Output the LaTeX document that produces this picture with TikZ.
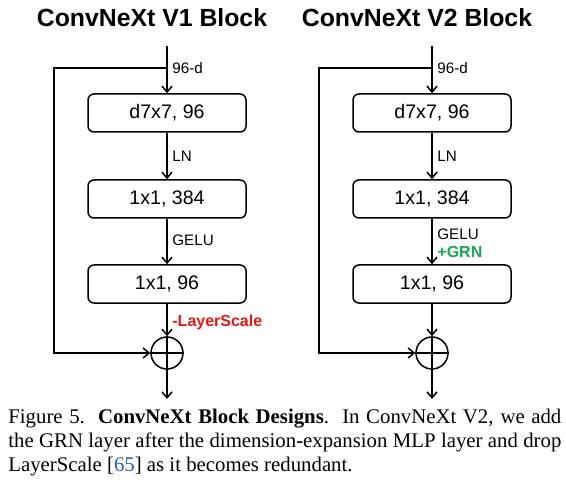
\documentclass[tikz,border=0pt]{standalone}
\usepackage{fontspec}
\setmainfont{Liberation Serif}
\setsansfont{Liberation Sans}
\usepackage{xcolor}
\usetikzlibrary{arrows.meta,positioning}
\definecolor{scaleRed}{RGB}{232,22,22}
\definecolor{grnGreen}{RGB}{24,166,82}
\definecolor{citeBlue}{RGB}{32,96,190}

\tikzset{
    blk/.style={draw, line width=0.75pt, rounded corners=3pt,
        minimum width=79pt, minimum height=19pt, inner sep=0pt,
        font=\sffamily\fontsize{9.8}{11}\selectfont},
    flow/.style={line width=0.75pt, -{Straight Barb[length=3pt,width=5pt]}},
    lbl/.style={anchor=west, inner sep=0pt, font=\sffamily\fontsize{7.6}{9}\selectfont},
    ttl/.style={inner sep=0pt, font=\sffamily\bfseries\fontsize{12.4}{14}\selectfont},
    sumnode/.style={draw, circle, line width=0.75pt, minimum size=16pt, inner sep=0pt},
}

\begin{document}
\begin{tikzpicture}[x=0.5pt,y=-0.5pt]
    \useasboundingbox (0,0) rectangle (566,491);

    % key values
    \pgfmathsetmacro{\xa}{167}
    \pgfmathsetmacro{\xb}{432}
    \pgfmathsetmacro{\ysplit}{68}
    \pgfmathsetmacro{\ysum}{353}

    % titles
    \node[ttl] (titleA) at (152,18) {ConvNeXt V1 Block};
    \node[ttl] (titleB) at (417,18) {ConvNeXt V2 Block};

    % V1 block
    \node[blk] (dwA) at (\xa,113) {d7x7, 96};
    \node[blk] (pwA) at (\xa,199) {1x1, 384};
    \node[blk] (pjA) at (\xa,284) {1x1, 96};
    \node[sumnode] (sumA) at (\xa,\ysum) {};
    \coordinate (inA) at (\xa,46);
    \coordinate (splitA) at (\xa,\ysplit);
    \coordinate (skipA) at (54,\ysplit);
    \coordinate (outA) at (\xa,399);

    \draw[flow] (inA) -- (dwA);
    \draw[flow] (dwA) -- (pwA);
    \draw[flow] (pwA) -- (pjA);
    \draw[flow] (pjA) -- (sumA);
    \draw[flow] (sumA) -- (outA);
    \draw[flow] (splitA) -- (skipA) |- (sumA);
    \draw[line width=0.75pt] (sumA.north) -- (sumA.south) (sumA.west) -- (sumA.east);

    \node[lbl] (dimA) at (\xa+5,\ysplit) {96-d};
    \node[lbl] (lnA) at (\xa+5,156) {LN};
    \node[lbl] (geluA) at (\xa+5,240) {GELU};
    \node[lbl, text=scaleRed, font=\sffamily\bfseries\fontsize{8}{9}\selectfont] (lsA) at (\xa+5,322) {-LayerScale};

    % V2 block
    \node[blk] (dwB) at (\xb,113) {d7x7, 96};
    \node[blk] (pwB) at (\xb,199) {1x1, 384};
    \node[blk] (pjB) at (\xb,284) {1x1, 96};
    \node[sumnode] (sumB) at (\xb,\ysum) {};
    \coordinate (inB) at (\xb,46);
    \coordinate (splitB) at (\xb,\ysplit);
    \coordinate (skipB) at (319,\ysplit);
    \coordinate (outB) at (\xb,399);

    \draw[flow] (inB) -- (dwB);
    \draw[flow] (dwB) -- (pwB);
    \draw[flow] (pwB) -- (pjB);
    \draw[flow] (pjB) -- (sumB);
    \draw[flow] (sumB) -- (outB);
    \draw[flow] (splitB) -- (skipB) |- (sumB);
    \draw[line width=0.75pt] (sumB.north) -- (sumB.south) (sumB.west) -- (sumB.east);

    \node[lbl] (dimB) at (\xb+5,\ysplit) {96-d};
    \node[lbl] (lnB) at (\xb+5,156) {LN};
    \node[lbl] (geluB) at (\xb+5,234) {GELU};
    \node[lbl, text=grnGreen, font=\sffamily\bfseries\fontsize{8}{9}\selectfont] (grnB) at (\xb+5,252) {+GRN};

    % caption
    \node[anchor=north west, inner sep=0pt, text width=276.5pt, align=justify,
          font=\fontsize{10.4}{12}\selectfont] (cap) at (8,409)
        {\hyphenpenalty=10000
         Figure 5.\ \ \textbf{ConvNeXt Block Designs}.\ \ In ConvNeXt V2, we add\linebreak
         the GRN layer after the dimension-expansion MLP layer and drop\linebreak
         LayerScale [\textcolor{citeBlue}{65}] as it becomes redundant.};
\end{tikzpicture}
\end{document}
